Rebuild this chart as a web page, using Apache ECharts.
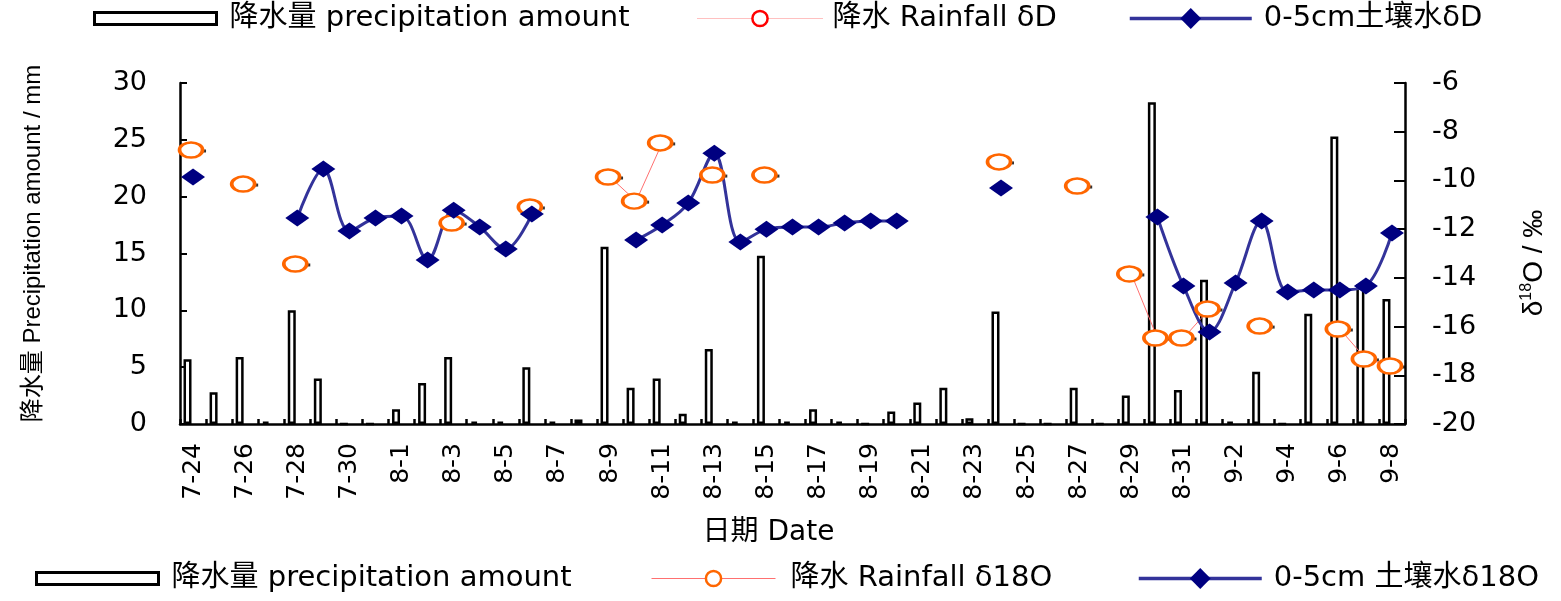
<!DOCTYPE html>
<html><head><meta charset="utf-8">
<script src="https://cdn.jsdelivr.net/npm/echarts@6/dist/echarts.min.js"></script>
<style>html,body{margin:0;padding:0;background:#fff}#c{width:1561px;height:601px}</style>
</head><body><div id="c"></div>
<script>
// ---------- data ----------
const categories = ['7-24','7-25','7-26','7-27','7-28','7-29','7-30','7-31',
  '8-1','8-2','8-3','8-4','8-5','8-6','8-7','8-8','8-9','8-10','8-11','8-12','8-13','8-14','8-15','8-16',
  '8-17','8-18','8-19','8-20','8-21','8-22','8-23','8-24','8-25','8-26','8-27','8-28','8-29','8-30','8-31',
  '9-1','9-2','9-3','9-4','9-5','9-6','9-7','9-8'];
const precipitation = [5.7,2.8,5.9,0.2,10.0,4.0,0,0,
  1.3,3.6,5.9,0.2,0.2,5.0,0.2,0.4,15.6,3.2,4.0,0.9,6.6,0.2,14.8,0.2,
  1.3,0.2,0,1.1,1.9,3.2,0.5,9.9,0,0,3.2,0,2.5,28.3,3.0,
  12.7,0.2,4.6,0,9.7,25.3,12.3,11.0];
const rainfallD18O = [-8.75,null,-10.15,null,-13.43,null,null,null,
  null,null,-11.75,null,null,-11.09,null,null,-9.86,-10.85,-8.46,null,-9.78,null,-9.78,null,
  null,null,null,null,null,null,null,-9.24,null,null,-10.23,null,-13.84,-16.47,-16.47,
  -15.28,null,-15.98,null,null,-16.10,-17.33,-17.62];
const soilD18O = [-9.86,null,null,null,-11.54,-9.53,-12.08,-11.54,
  -11.46,-13.27,-11.22,-11.91,-12.82,-11.38,null,null,null,-12.45,-11.83,-10.93,-8.88,-12.53,-12.00,-11.91,
  -11.91,-11.75,-11.67,-11.67,null,null,null,-10.31,null,null,null,null,null,-11.50,-14.33,
  -16.22,-14.21,-11.67,-14.58,-14.50,-14.50,-14.33,-12.16];
const leftAxisRange = [0, 30, 5];      // min, max, interval
const rightAxisRange = [-20, -6, 2];   // min, max, interval

const NAME_P = '降水量 precipitation amount';
const NAME_RD = '降水 Rainfall δD';
const NAME_SD = '0-5cm土壤水δD';
const NAME_R18 = '降水 Rainfall δ18O';
const NAME_S18 = '0-5cm 土壤水δ18O';

// ---------- styles ----------
const WIDE = 'DejaVu Sans, Noto Sans CJK SC, sans-serif';
const ARIAL = 'Liberation Sans, Noto Sans CJK SC, sans-serif';
const ELLIPSE = 'path://M0,50A50,50,0,1,1,100,50A50,50,0,1,1,0,50Z';

function legendItem(name, left, top, w, h, gap, extra) {
  return Object.assign({
    data: [name], left: left, top: top, orient: 'horizontal', padding: 0,
    itemWidth: w, itemHeight: h, selectedMode: false,
    textStyle: { fontFamily: WIDE, fontSize: 29, color: '#000', padding: [0, 0, 0, gap - 5] }
  }, extra || {});
}

const chart = echarts.init(document.getElementById('c'), null, { renderer: 'canvas' });
chart.setOption({
  animation: false,
  backgroundColor: '#fff',
  grid: { left: 180, right: 156, top: 83, bottom: 177, outerBoundsMode: 'none', containLabel: false },
  legend: [
    legendItem(NAME_P, 93, 4, 122, 12, 13, { icon: 'rect', itemStyle: { borderWidth: 3 } }),
    legendItem(NAME_RD, 697, 4, 125, 19, 10, { itemStyle: { borderWidth: 2.5 }, lineStyle: { width: 1, type: 'dotted' } }),
    legendItem(NAME_SD, 1128, 4, 122, 26, 12, { itemStyle: { borderWidth: 0 }, lineStyle: { width: 3.5 } }),
    legendItem(NAME_P, 35, 564, 122, 12, 13, { icon: 'rect', itemStyle: { borderWidth: 3 } }),
    legendItem(NAME_R18, 651, 564, 124, 19, 15, { itemStyle: { borderWidth: 2.5 }, lineStyle: { width: 1 } }),
    legendItem(NAME_S18, 1137, 564, 123, 26, 12, { itemStyle: { borderWidth: 0 }, lineStyle: { width: 3.5 } })
  ],
  xAxis: {
    type: 'category', data: categories, boundaryGap: true,
    name: '日期 Date', nameLocation: 'middle', nameGap: 95,
    nameTextStyle: { fontFamily: WIDE, fontSize: 28, color: '#000', padding: [0, 48, 0, 0] },
    axisLine: { show: true, lineStyle: { color: '#000', width: 2.5 } },
    axisTick: { show: true, inside: true, length: 5, interval: 0, lineStyle: { color: '#000', width: 2.5 } },
    axisLabel: { interval: 1, rotate: 90, margin: 19, fontFamily: WIDE, fontSize: 25, color: '#000' },
    splitLine: { show: false }
  },
  yAxis: [
    {
      type: 'value', position: 'left', min: leftAxisRange[0], max: leftAxisRange[1], interval: leftAxisRange[2],
      name: '降水量 Precipitation amount / mm', nameLocation: 'middle', nameGap: 135, nameRotate: 90,
      nameTextStyle: { fontFamily: ARIAL, fontSize: 24, color: '#000', padding: [0, 0, 0, 20] },
      axisLine: { show: true, lineStyle: { color: '#000', width: 2.5 } },
      axisTick: { show: true, inside: true, length: 7, lineStyle: { color: '#000', width: 2 } },
      axisLabel: { margin: 33, fontFamily: WIDE, fontSize: 27, color: '#000' },
      splitLine: { show: false }
    },
    {
      type: 'value', position: 'right', min: rightAxisRange[0], max: rightAxisRange[1], interval: rightAxisRange[2],
      name: '{a|δ}{s|18}{a|O / ‰}', nameLocation: 'middle', nameGap: 114, nameRotate: 90,
      nameTextStyle: {
        color: '#000', padding: [0, 19, 0, 0],
        rich: {
          a: { fontFamily: ARIAL, fontSize: 28, color: '#000', lineHeight: 31 },
          s: { fontFamily: ARIAL, fontSize: 16, color: '#000', lineHeight: 31, verticalAlign: 'top', padding: [0, 0, 10, 0] }
        }
      },
      axisLine: { show: true, lineStyle: { color: '#000', width: 2.5 } },
      axisTick: { show: true, inside: true, length: 11, lineStyle: { color: '#000', width: 2 } },
      axisLabel: { margin: 27, fontFamily: WIDE, fontSize: 27, color: '#000' },
      splitLine: { show: false }
    }
  ],
  series: [
    {
      type: 'bar', name: NAME_P, data: precipitation, yAxisIndex: 0,
      barWidth: 8, barGap: '38%', silent: true,
      itemStyle: { color: '#fff', borderColor: '#000', borderWidth: 2.5 }
    },
    {
      type: 'bar', name: 'spacer', data: precipitation.map(() => null), yAxisIndex: 0,
      barWidth: 8, silent: true, itemStyle: { color: 'transparent' }
    },
    {
      type: 'line', name: NAME_R18, data: rainfallD18O, yAxisIndex: 1, connectNulls: false, silent: true,
      symbol: ELLIPSE, symbolSize: [23, 15], symbolOffset: [-2, 0], showAllSymbol: true,
      lineStyle: { color: '#FF7070', width: 1 },
      itemStyle: { color: '#fff', borderColor: '#FF6600', borderWidth: 3 }
    },
    {
      type: 'scatter', name: 'marks', data: rainfallD18O, yAxisIndex: 1, silent: true,
      symbol: 'rect', symbolSize: [4, 3], symbolOffset: [11, 1],
      itemStyle: { color: '#000' }
    },
    {
      type: 'line', name: NAME_S18, data: soilD18O, yAxisIndex: 1, connectNulls: false, silent: true,
      smooth: 0.35, symbol: 'diamond', symbolSize: [24, 17], showAllSymbol: true,
      lineStyle: { color: '#33339A', width: 3 },
      itemStyle: { color: '#000080', borderWidth: 0 }
    },
    {
      type: 'line', name: NAME_RD, data: [], yAxisIndex: 1,
      symbol: ELLIPSE, lineStyle: { color: '#FF8080', width: 1, type: 'dotted' },
      itemStyle: { color: '#fff', borderColor: '#FF0000', borderWidth: 2.5 }
    },
    {
      type: 'line', name: NAME_SD, data: [], yAxisIndex: 1,
      symbol: 'diamond', lineStyle: { color: '#33339A', width: 3.5 },
      itemStyle: { color: '#000080' }
    }
  ]
});
</script></body></html>
